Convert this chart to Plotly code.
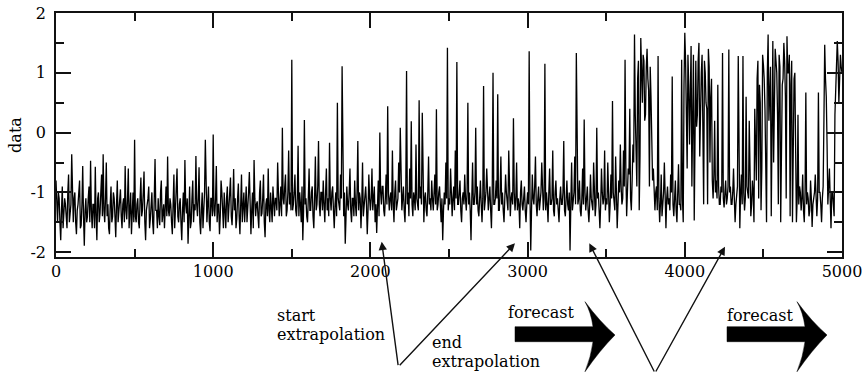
import numpy as np
import plotly.graph_objects as go

# ---------------- data ----------------
# main samples at steps 0, 10, 20, ... ; mid samples at steps 5, 15, 25, ...
sample_step = 10

seg_0000 = [
    -0.8, -1.5, -1.1, -1.8, -0.9, -1.4, -1.2, -1.6, -0.7, -1.3,
    -0.36, -1.5, -1.0, -1.7, -1.2, -0.8, -1.55, -0.56, -1.89, -1.1,
    -1.4, -0.9, -0.47, -1.6, -1.2, -0.57, -1.8, -1.0, -1.35, -0.7,
    -0.36, -1.5, -0.5, -1.2, -1.7, -0.9, -1.4, -1.1, -1.75, -0.8,
    -1.3, -0.95, -1.6, -1.1, -0.56, -1.45, -0.6, -1.25, -1.7, -1.0,
    -0.12, -1.5, -1.1, -1.6, -0.75, -1.3, -0.65, -1.8, -1.2, -0.9,
    -1.45, -1.0, -1.7, -0.44, -1.3, -1.1, -1.55, -0.8, -1.25, -1.6,
    -0.9, -0.4, -1.4, -1.2, -1.7, -0.7, -1.3, -0.6, -1.5, -1.1,
    -1.8, -1.0, -0.46, -1.35, -1.86, -0.9, -1.5, -0.8, -1.2, -0.39,
    -1.4, -0.58, -1.7, -1.0, -1.3, -0.12, -1.5, -0.9, -1.65, -1.1,
]
seg_1000 = [
    -0.03, -1.4, -0.56, -1.2, -1.7, -0.8, -1.35, -1.0, -1.6, -0.9,
    -1.3, -0.75, -1.55, -0.61, -1.1, -1.45, -0.85, -1.7, -0.7, -1.25,
    -1.5, -0.9, -1.3, -0.66, -1.7, -1.0, -0.46, -1.4, -1.15, -1.6,
    -0.8, -1.35, -0.7, -1.75, -1.1, -0.6, -1.5, -1.2, -0.9, -1.4,
    -1.1, -0.5, -1.4, -0.9, 0.08, -1.2, -0.7, -1.3, -0.3, -1.0,
    1.22, -1.2, -0.7, -1.4, -0.22, -1.0, -1.5, -1.8, 0.21, -1.1,
    -1.5, -0.6, -1.3, -0.9, -1.6, -0.4, -1.2, -0.14, -1.4, -1.0,
    -0.8, -1.5, -0.6, -1.1, -0.17, -1.3, -0.9, -1.6, -1.0, 0.5,
    -1.2, -0.7, 1.11, -1.4, -1.86, -0.9, -1.3, -0.6, -1.5, -1.1,
    -0.8, -1.4, -0.14, -1.0, -1.6, -0.5, -1.2, -0.9, -1.7, -0.7,
]
seg_2000 = [
    -1.3, -0.6, -1.1, -1.5, -1.68, -0.8, 0.0, -1.2, -0.9, -1.4,
    -0.7, 0.44, -1.3, -1.0, -0.3, -1.5, -0.8, -1.2, -0.5, 0.08,
    -1.3, -0.9, -1.5, 1.03, -1.0, -0.6, 0.19, -1.4, -1.1, -0.2,
    -1.2, 0.54, -0.9, 0.33, -1.5, -1.0, -1.4, -0.4, -1.1, -0.8,
    -1.3, -0.7, 0.39, -1.2, -0.9, -1.5, -1.8, -1.0, -0.5, 1.42,
    -1.1, -0.6, -1.4, -0.9, -0.3, 1.18, -1.2, -0.8, -1.5, -1.0,
    -0.7, -1.3, 0.5, -1.0, -1.8, -0.5, -1.2, 0.08, -0.9, -1.4,
    -0.8, -1.5, 0.78, -1.1, -0.6, -1.3, -0.9, -1.6, 1.0, -1.2,
    -0.8, 0.64, -1.3, -0.4, -1.0, -1.5, -0.7, -1.2, -0.3, -1.4,
    -1.0, 0.24, -1.3, -0.5, -1.1, -1.6, -0.8, -1.3, -0.9, -1.5,
]
seg_3000 = [
    -1.0, 1.36, -1.97, -0.7, -1.2, -0.4, -1.4, -0.9, -1.1, -0.5,
    -1.3, 1.15, -1.0, -1.5, -0.6, -1.2, -0.3, -1.4, -0.8, -1.1,
    -1.5, -0.9, -1.2, -0.14, -1.4, -0.8, -1.3, -1.97, -0.5, -1.1,
    -0.4, 1.33, -1.2, -0.8, -1.4, -0.6, 0.22, -1.3, -0.9, -1.5,
    -0.7, -1.2, -0.5, -1.4, 0.08, -1.0, -1.6, -0.6, -1.2, -0.3,
    -1.1, -0.5, -1.5, -0.7, 0.53, -1.2, -0.4, -1.6, -0.8, -0.2,
    -1.2, -0.3, 1.22, -1.4, -0.6, 0.4, -1.3, -0.2, 1.64, -0.8,
    0.9, -1.3, 1.58, 0.5, 1.2, 0.3, 1.4, 0.7, 1.1, 0.05,
    -0.6, -1.3, -0.9, 1.28, -1.5, -0.7, -1.2, -0.5, -1.6, -0.9,
    -1.1, -0.7, 0.94, -1.4, -0.8, -1.5, -0.53, -1.2, 1.22, -1.5,
]
seg_4000 = [
    1.67, 0.5, 1.3, -0.2, 1.45, 0.8, -1.47, 1.2, 0.3, 1.5,
    0.6, 1.3, -1.2, 1.0, 0.4, 1.4, -0.5, 0.9, -1.1, 0.2,
    -0.8, 0.8, -1.2, -0.9, 1.33, -1.25, -0.8, -1.1, 1.39, -0.9,
    -1.2, -0.6, -1.5, -1.0, 1.28, -1.6, -0.7, 1.28, -1.3, 0.6,
    -1.0, 0.2, -1.4, -0.8, -1.5, -0.3, 0.9, -1.1, 0.5, -0.6,
    1.14, 0.4, -1.5, 1.64, 0.7, -1.4, 1.53, 0.9, 1.2, 0.3,
    1.3, -1.5, 0.8, 1.5, 0.6, 1.61, 1.0, -1.4, 1.2, 0.5,
    1.0, -1.5, 0.3, -0.9, -1.3, -0.7, -1.5, 0.67, -1.0, -1.4,
    -0.8, -1.58, -1.1, -0.7, -1.4, 0.67, -1.0, -1.5, -0.9, 1.47,
    0.6, -1.2, -0.6, -1.6, -1.0, -1.4, 0.8, 1.53, 0.5, 1.3,
]
seg_end = [1.0]

mid_0000 = [
    -1.2, -1.0, -1.5, -1.3, -1.6, -1.1, -1.4, -1.0, -1.5, -1.2,
    -1.4, -1.1, -1.5, -1.3, -1.0, -1.6, -1.2, -1.4, -1.3, -1.5,
    -1.1, -1.5, -1.3, -1.2, -1.6, -1.4, -1.1, -1.5, -1.0, -1.4,
    -1.3, -1.1, -1.4, -1.6, -1.2, -1.5, -1.0, -1.4, -1.2, -1.5,
    -1.0, -1.4, -1.2, -1.5, -1.3, -1.1, -1.6, -1.0, -1.3, -1.5,
    -1.4, -1.2, -1.5, -1.1, -1.4, -1.0, -1.5, -1.3, -1.1, -1.6,
    -1.2, -1.5, -1.1, -1.3, -1.6, -1.4, -1.0, -1.5, -1.2, -1.1,
    -1.4, -1.3, -1.1, -1.5, -1.2, -1.6, -1.0, -1.4, -1.2, -1.5,
    -1.3, -1.5, -1.2, -1.1, -1.4, -1.6, -1.1, -1.5, -1.3, -1.2,
    -1.1, -1.5, -1.3, -1.6, -1.0, -1.4, -1.2, -1.5, -1.1, -1.4,
]
mid_1000 = [
    -1.3, -1.1, -1.5, -1.2, -1.4, -1.0, -1.6, -1.3, -1.1, -1.5,
    -1.0, -1.4, -1.2, -1.3, -1.6, -1.1, -1.4, -1.2, -1.5, -1.0,
    -1.2, -1.5, -1.0, -1.4, -1.3, -1.6, -1.1, -1.2, -1.4, -1.0,
    -1.4, -1.1, -1.5, -1.2, -1.4, -1.3, -1.0, -1.5, -1.2, -1.1,
    -1.3, -1.0, -1.2, -1.4, -1.1, -0.9, -1.4, -1.0, -1.2, -1.3,
    -1.3, -1.0, -1.3, -1.1, -1.4, -1.2, -0.9, -1.3, -1.2, -1.4,
    -1.1, -1.3, -1.0, -1.4, -1.1, -1.3, -0.9, -1.2, -1.0, -1.3,
    -1.2, -1.0, -1.3, -1.4, -1.1, -1.0, -1.3, -1.2, -1.4, -1.1,
    -1.3, -1.1, -1.2, -1.0, -1.4, -1.2, -1.0, -1.3, -1.1, -1.4,
    -1.2, -1.0, -1.3, -1.1, -1.2, -1.4, -1.0, -1.2, -1.3, -1.1,
]
mid_2000 = [
    -1.1, -1.3, -0.9, -1.2, -1.1, -1.4, -1.0, -0.9, -1.3, -1.1,
    -1.2, -1.0, -1.1, -1.3, -1.2, -1.0, -1.3, -1.1, -1.0, -1.2,
    -1.1, -1.3, -1.0, -1.2, -1.4, -1.1, -1.2, -1.0, -1.3, -1.1,
    -1.3, -1.1, -1.2, -1.0, -1.1, -1.3, -1.0, -1.2, -1.3, -1.1,
    -1.0, -1.2, -1.3, -1.0, -1.2, -1.1, -1.3, -1.2, -1.1, -1.3,
    -1.2, -1.0, -1.1, -1.3, -1.1, -1.2, -1.0, -1.3, -1.1, -1.2,
    -1.1, -1.0, -1.2, -1.3, -1.1, -1.2, -1.0, -1.2, -1.3, -1.1,
    -1.2, -1.1, -1.3, -1.0, -1.2, -1.1, -1.3, -1.0, -1.2, -1.1,
    -1.1, -1.3, -1.0, -1.2, -1.3, -1.1, -1.0, -1.3, -1.2, -1.1,
    -1.2, -1.0, -1.1, -1.3, -1.2, -1.0, -1.2, -1.1, -1.3, -1.2,
]
mid_3000 = [
    -1.2, -1.0, -1.3, -1.1, -0.9, -1.2, -1.1, -1.3, -1.0, -1.2,
    -1.1, -1.3, -1.2, -1.0, -1.2, -1.1, -1.3, -1.0, -1.2, -1.3,
    -1.1, -1.2, -1.0, -1.3, -1.1, -1.2, -1.0, -1.2, -1.3, -1.0,
    -1.2, -1.0, -1.1, -1.3, -1.1, -1.2, -1.0, -1.1, -1.3, -1.2,
    -1.1, -1.3, -1.0, -1.2, -1.1, -1.3, -1.2, -1.0, -1.1, -1.3,
    -1.2, -1.0, -1.2, -1.1, -1.0, -1.3, -1.1, -1.2, -1.0, -0.9,
    -1.1, -0.9, -0.6, -1.0, -0.7, -1.1, -0.8, -0.5, 0.3, -0.9,
    1.2, -0.4, 1.0, 1.3, 0.2, 1.1, 0.9, -0.9, 0.6, -0.8,
    -1.2, -1.0, -1.3, -1.1, -1.2, -1.4, -1.0, -1.3, -1.1, -1.2,
    -1.3, -1.0, -1.2, -1.1, -1.3, -1.0, -1.2, -1.3, -1.1, 0.8,
]
mid_4000 = [
    1.2, -0.6, 0.8, 1.3, -0.9, 1.3, 0.9, 0.1, 1.2, -0.4,
    1.0, -0.3, 1.2, 0.5, -1.2, 1.1, 0.6, -0.8, -0.7, -1.0,
    -1.1, -0.9, -1.2, -1.0, -1.1, -1.0, -1.2, -0.9, -1.0, -1.2,
    -1.0, -1.1, -1.2, -0.9, -1.1, -1.0, -1.2, -1.0, -1.1, -0.9,
    -1.1, -0.9, -1.2, -1.0, 0.4, -0.8, 1.2, 0.8, -1.3, 1.3,
    0.9, -1.4, 1.0, 0.2, 1.1, 0.8, -0.5, 1.4, 1.0, -1.2,
    1.1, 0.3, 0.9, 1.2, -1.1, 1.0, 1.3, 0.8, -1.5, 0.9,
    -0.9, -1.1, -1.2, -1.0, -1.1, -1.3, -1.0, -1.2, -1.1, -1.3,
    -1.1, -1.2, -1.0, -1.3, -1.1, -1.0, -1.2, -1.1, 0.2, 0.9,
    -0.2, -0.9, -1.1, -1.0, -1.2, 0.3, 1.0, 1.2, 0.9, 1.1,
]

x_tick_vals = [0, 1000, 2000, 3000, 4000, 5000]
x_tick_text = ["0", "1000", "2000", "3000", "4000", "5000"]
x_minor_vals = [500, 1500, 2500, 3500, 4500]
y_tick_vals = [-2, -1, 0, 1, 2]
y_tick_text = ["-2", "-1", "0", "1", "2"]
y_minor_vals = [-1.5, -0.5, 0.5, 1.5]

main_vals = seg_0000 + seg_1000 + seg_2000 + seg_3000 + seg_4000
mid_vals = mid_0000 + mid_1000 + mid_2000 + mid_3000 + mid_4000
steps, values = [], []
for i, (a, b) in enumerate(zip(main_vals, mid_vals)):
    steps += [i * sample_step, i * sample_step + sample_step // 2]
    values += [a, b]
steps.append(len(main_vals) * sample_step)
values += seg_end

# ---------------- layout helpers (pixel -> paper) ----------------
W, H = 862, 375
L, R, T, B = 56, 842, 13, 257


def px(x):
    return (x - L) / (R - L)


def py(y):
    return (B - y) / (B - T)


FONT = "DejaVu Serif"
FS = 16
INK = "#111111"

fig = go.Figure()
fig.add_trace(go.Scatter(x=steps, y=values, mode="lines",
                         line=dict(color="black", width=1.3), hoverinfo="skip"))

axis_common = dict(ticks="inside", ticklen=15, tickwidth=1.5, tickcolor=INK,
                   showline=True, linewidth=1.5, linecolor=INK, mirror="ticks",
                   showgrid=False, zeroline=False, ticklabeloverflow="allow",
                   tickfont=dict(family=FONT, size=FS, color="black"))

fig.update_xaxes(range=[0, 5000], tickmode="array", tickvals=x_tick_vals, ticktext=x_tick_text,
                 minor=dict(tickmode="array", tickvals=x_minor_vals, ticks="inside", ticklen=8,
                            tickwidth=1.5, tickcolor=INK, showgrid=False),
                 ticklabelstandoff=-1, **axis_common)
fig.update_yaxes(range=[-2.08, 2.0], tickmode="array", tickvals=y_tick_vals, ticktext=y_tick_text,
                 minor=dict(tickmode="array", tickvals=y_minor_vals, ticks="inside", ticklen=8,
                            tickwidth=1.5, tickcolor=INK, showgrid=False),
                 ticklabelstandoff=5,
                 title=dict(text="data", font=dict(family=FONT, size=FS, color="black"), standoff=5),
                 **axis_common)

annotations = []


def text_ann(txt, left_px, center_py):
    annotations.append(dict(text=txt, x=px(left_px - 2), y=py(center_py), xref="paper", yref="paper",
                            xanchor="left", yanchor="middle", showarrow=False,
                            font=dict(family=FONT, size=FS, color="black")))


text_ann("start", 276.7, 315.5)
text_ann("extrapolation", 276.7, 334.5)
text_ann("end", 431.7, 342.5)
text_ann("extrapolation", 431.7, 361.5)
text_ann("forecast", 508.3, 312)
text_ann("forecast", 726.7, 315.5)


def arrow_ann(tip, tail):
    annotations.append(dict(text="", x=px(tip[0]), y=py(tip[1]), xref="paper", yref="paper",
                            ax=tail[0] - tip[0], ay=tail[1] - tip[1], axref="pixel", ayref="pixel",
                            showarrow=True, arrowhead=2, arrowsize=1.2, arrowwidth=1.4,
                            arrowcolor=INK, standoff=0, startstandoff=0))


arrow_ann((381.7, 241.7), (398.3, 366.7))
arrow_ann((515.0, 243.3), (398.3, 366.7))
arrow_ann((589.3, 243.3), (655.0, 373.0))
arrow_ann((725.0, 246.7), (655.0, 373.0))

shapes = []


def big_arrow(dx):
    pts = [("M", [(727 + dx, 326.7)]),
           ("L", [(805 + dx, 326.7)]),
           ("Q", [(803 + dx, 312), (797 + dx, 301.7)]),
           ("Q", [(812 + dx, 322), (827 + dx, 335)]),
           ("Q", [(812 + dx, 350), (797 + dx, 371.7)]),
           ("Q", [(803 + dx, 357), (805 + dx, 341.7)]),
           ("L", [(727 + dx, 341.7)])]
    d = ""
    for cmd, plist in pts:
        d += cmd + " " + " ".join(f"{px(a):.5f},{py(b):.5f}" for a, b in plist) + " "
    d += "Z"
    shapes.append(dict(type="path", path=d, xref="paper", yref="paper",
                       fillcolor="black", line=dict(color="black", width=0.5)))


big_arrow(-212)
big_arrow(0)

fig.update_layout(width=W, height=H, margin=dict(l=L, r=W - R, t=T, b=H - B, autoexpand=False),
                  plot_bgcolor="white", paper_bgcolor="white", showlegend=False,
                  font=dict(family=FONT, size=FS, color="black"),
                  annotations=annotations, shapes=shapes)

fig.write_html("out.html")
